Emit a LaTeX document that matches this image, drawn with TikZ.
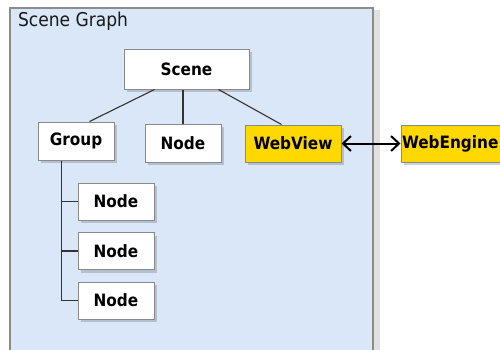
\documentclass[tikz,border=0pt]{standalone}
\usepackage{fontspec}
\setmainfont{DejaVu Sans Condensed}
\usetikzlibrary{shadows,calc,arrows.meta}
\definecolor{panelblue}{HTML}{D9E7F9}
\definecolor{boxgold}{HTML}{FFD800}
\definecolor{edgegray}{HTML}{8A8A8A}
\begin{document}
\begin{tikzpicture}[x=1pt,y=-1pt,
  box/.style={draw=edgegray,line width=1pt,fill=white,inner sep=0pt,
    font=\fontsize{17}{20}\selectfont\bfseries,
    drop shadow={shadow xshift=3pt,shadow yshift=-3pt,opacity=0.3,fill=black!60}},
  goldbox/.style={box,fill=boxgold},
  link/.style={draw=black!80,line width=1.1pt}]
\useasboundingbox (0,0) rectangle (500,349);
% panel
\fill[black!25] (14,12) rectangle (378,360);
\fill[black!12] (12,10) rectangle (380,360);
\draw[draw=black!45,line width=1.2pt,fill=panelblue] (10,8) rectangle (373,360);
\node[anchor=west,font=\fontsize{19}{22}\selectfont,text=black!90] (title) at (14.5,21) {Scene Graph};
% nodes
\node[box,minimum width=125pt,minimum height=40pt] (scene) at (186.5,69) {Scene};
\node[box,minimum width=76pt,minimum height=38pt] (group) at (76,141) {Group};
\node[box,minimum width=76pt,minimum height=38pt] (node) at (183,143) {Node};
\node[goldbox,minimum width=96pt,minimum height=37pt] (webview) at (293,143.5) {WebView};
\node[goldbox,minimum width=104pt,minimum height=37pt,text width=102pt,align=left] (webengine) at (453,143.5) {WebEngine};
\node[box,minimum width=76pt,minimum height=37pt] (c1) at (116,201.5) {Node};
\node[box,minimum width=76pt,minimum height=37pt] (c2) at (116,251) {Node};
\node[box,minimum width=76pt,minimum height=37pt] (c3) at (116,300.5) {Node};
% connectors
\draw[link] ($(scene.south west)+(31,0)$) -- ($(group.north west)+(52,0)$);
\draw[link] (scene.south -| node.north) -- (node.north);
\draw[link] ($(scene.south west)+(95,0)$) -- ($(webview.north west)+(37,0)$);
\coordinate (trunk) at ($(group.south west)+(24,0)$);
\draw[link] (trunk) |- (c3.west);
\draw[link] (trunk) |- (c1.west);
\draw[link] (trunk) |- (c2.west);
\draw[black,line width=2pt,{Straight Barb[length=8pt,width=15pt]}-{Straight Barb[length=8pt,width=15pt]}] (webview.east) -- (webengine.west);
\end{tikzpicture}
\end{document}
